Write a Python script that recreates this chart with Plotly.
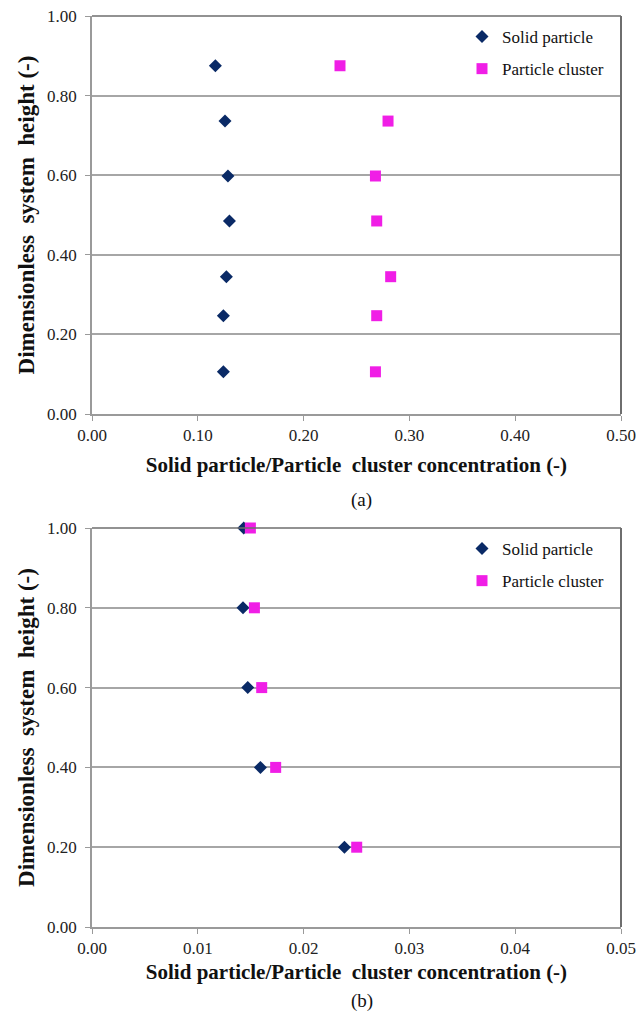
import plotly.graph_objects as go

# Panel (a): concentration profiles along the system height
height_a = [0.875, 0.736, 0.598, 0.485, 0.345, 0.247, 0.106]
solid_a = [0.1166, 0.1257, 0.1285, 0.1299, 0.1270, 0.1242, 0.1242]
cluster_a = [0.2344, 0.2798, 0.2679, 0.2691, 0.2823, 0.2691, 0.2679]

# Panel (b)
height_b = [1.0, 0.8, 0.6, 0.4, 0.2]
solid_b = [0.01434, 0.01427, 0.01472, 0.01592, 0.02386]
cluster_b = [0.01497, 0.01535, 0.01604, 0.01736, 0.02502]

x_ticks_a = [0.0, 0.1, 0.2, 0.3, 0.4, 0.5]
x_ticks_b = [0.0, 0.01, 0.02, 0.03, 0.04, 0.05]
y_ticks = [0.0, 0.2, 0.4, 0.6, 0.8, 1.0]

SOLID_COLOR = "#0a2a66"
CLUSTER_COLOR = "#f01ee6"
FONT = "Times New Roman, Liberation Serif, serif"
W, H = 637, 1025

fig = go.Figure()

fig.add_trace(go.Scatter(x=solid_a, y=height_a, mode="markers", name="Solid particle",
                         marker=dict(symbol="diamond", size=10, color=SOLID_COLOR),
                         xaxis="x", yaxis="y", legend="legend", legendgroup="a1"))
fig.add_trace(go.Scatter(x=cluster_a, y=height_a, mode="markers", name="Particle cluster",
                         marker=dict(symbol="square", size=11, color=CLUSTER_COLOR),
                         xaxis="x", yaxis="y", legend="legend", legendgroup="a2"))
fig.add_trace(go.Scatter(x=solid_b, y=height_b, mode="markers", name="Solid particle",
                         marker=dict(symbol="diamond", size=10, color=SOLID_COLOR),
                         xaxis="x2", yaxis="y2", legend="legend2", legendgroup="b1",
                         cliponaxis=False))
fig.add_trace(go.Scatter(x=cluster_b, y=height_b, mode="markers", name="Particle cluster",
                         marker=dict(symbol="square", size=11, color=CLUSTER_COLOR),
                         xaxis="x2", yaxis="y2", legend="legend2", legendgroup="b2",
                         cliponaxis=False))

x_dom = [92 / W, 621 / W]
ya_dom = [1 - 414 / H, 1 - 16 / H]
yb_dom = [1 - 927 / H, 1 - 528 / H]

tick_font = dict(family=FONT, size=17, color="#222222")
x_title = "<b>Solid particle/Particle  cluster concentration (-)</b>"
y_title = "<b>Dimensionless  system  height (-)</b>"


def xaxis(ticks, anchor, standoff):
    return dict(domain=x_dom, anchor=anchor, range=[ticks[0], ticks[-1]],
                tickvals=ticks, tickformat=".2f", tickfont=tick_font, automargin=False,
                showgrid=False, zeroline=False, showline=True, linecolor="#9a9a9a",
                linewidth=1.5, ticks="outside", ticklen=5, tickcolor="#9a9a9a",
                title=dict(text=x_title, standoff=standoff,
                           font=dict(family=FONT, size=21, color="#111111")))


def yaxis(dom, anchor):
    return dict(domain=dom, anchor=anchor, range=[0, 1], tickvals=y_ticks,
                tickformat=".2f", tickfont=tick_font, automargin=False,
                ticklabelstandoff=5,
                showgrid=True, gridcolor="#a6a6a6", gridwidth=1.5, zeroline=False,
                showline=True, linecolor="#9a9a9a", linewidth=1.5,
                ticks="outside", ticklen=5, tickcolor="#9a9a9a",
                title=dict(text=y_title, standoff=6,
                           font=dict(family=FONT, size=23, color="#111111")))


legend_style = dict(font=dict(family=FONT, size=17, color="#111111"),
                    bgcolor="rgba(0,0,0,0)", xanchor="left", yanchor="top",
                    itemwidth=30, tracegroupgap=7, itemsizing="trace")

fig.update_layout(
    width=W, height=H,
    margin=dict(l=0, r=0, t=0, b=0),
    paper_bgcolor="white", plot_bgcolor="white",
    font=dict(family=FONT),
    xaxis=xaxis(x_ticks_a, "y", 13),
    yaxis=yaxis(ya_dom, "x"),
    xaxis2=xaxis(x_ticks_b, "y2", 7),
    yaxis2=yaxis(yb_dom, "x2"),
    legend=dict(x=462 / W, y=1 - 19 / H, **legend_style),
    legend2=dict(x=462 / W, y=1 - 531 / H, **legend_style),
    annotations=[
        dict(text="(a)", x=362 / W, y=1 - 500 / H, xref="paper", yref="paper",
             yanchor="middle", showarrow=False,
             font=dict(family=FONT, size=19, color="#111111")),
        dict(text="(b)", x=362 / W, y=1 - 1001 / H, xref="paper", yref="paper",
             yanchor="middle", showarrow=False,
             font=dict(family=FONT, size=19, color="#111111")),
    ],
)

# darker frame on top and right sides of each plot area
for dom in (ya_dom, yb_dom):
    fig.add_shape(type="line", xref="paper", yref="paper", x0=x_dom[0], x1=x_dom[1],
                  y0=dom[1], y1=dom[1], line=dict(color="#6e6e6e", width=1.5))
    fig.add_shape(type="line", xref="paper", yref="paper", x0=x_dom[1], x1=x_dom[1],
                  y0=dom[0], y1=dom[1], line=dict(color="#6e6e6e", width=2))

fig.write_html("out.html")
